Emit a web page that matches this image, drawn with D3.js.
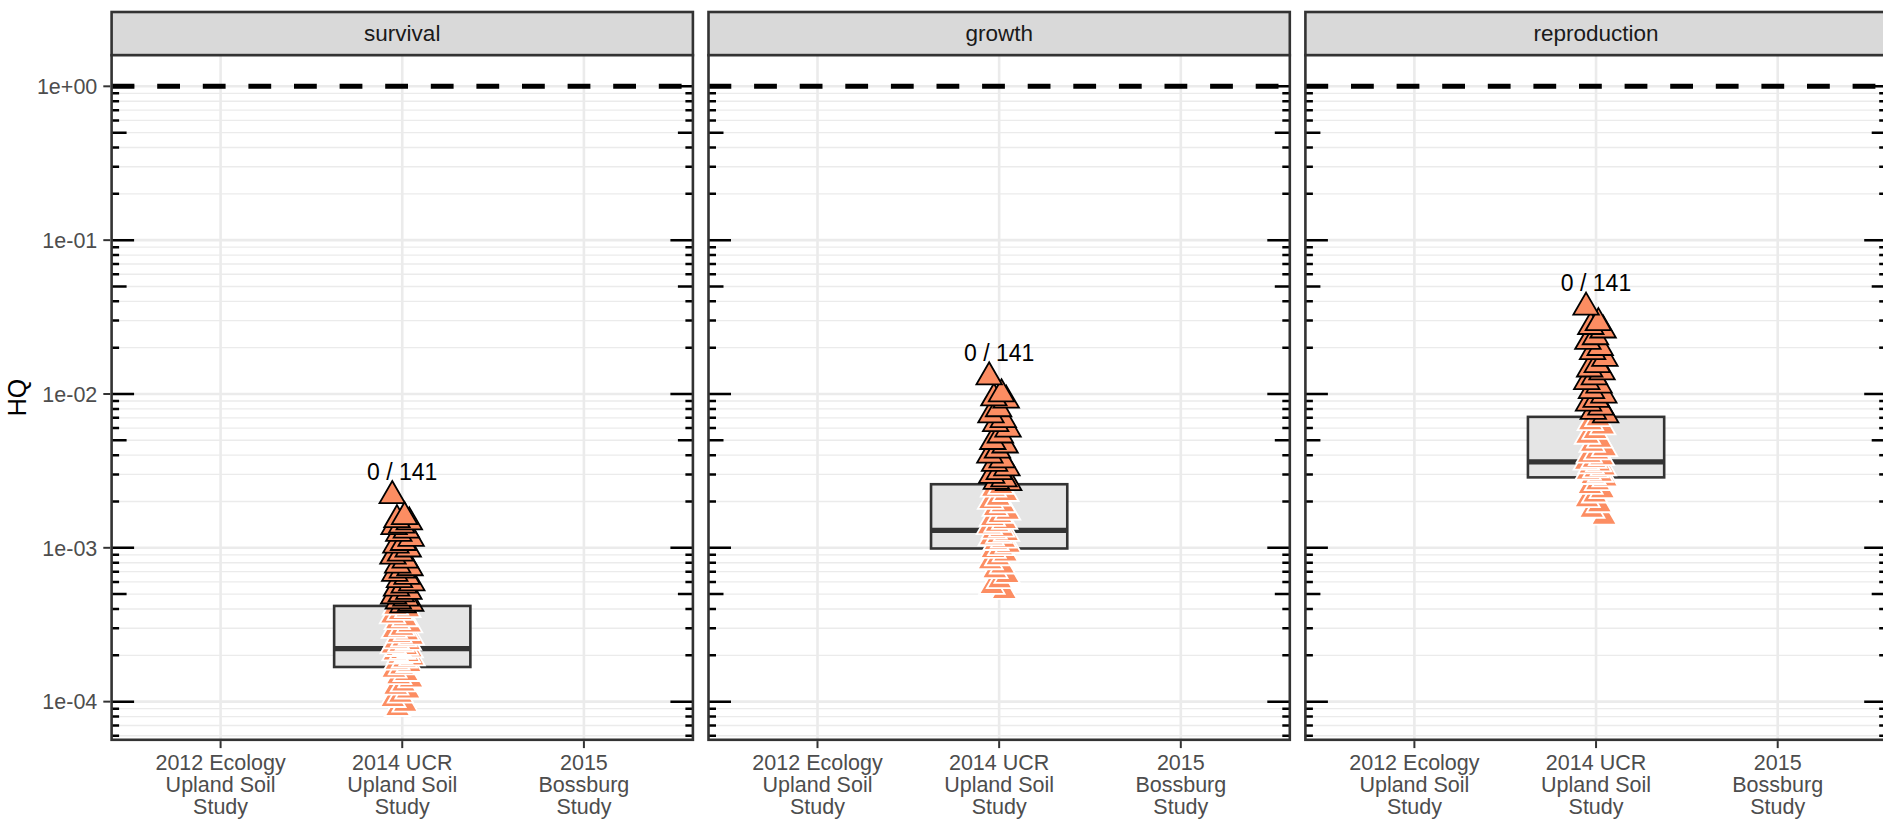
<!DOCTYPE html>
<html><head><meta charset="utf-8">
<script src="https://cdn.jsdelivr.net/npm/d3@7"></script>
<style>
body{margin:0;background:#fff;}
svg{display:block;font-family:"Liberation Sans",Arial,Helvetica,sans-serif;}
</style>
</head><body>
<svg id="chart" width="1883" height="831"></svg>
<script>
// ---------------- data ----------------
const panels = ["survival", "growth", "reproduction"];
const categories = ["2012 Ecology\nUpland Soil\nStudy", "2014 UCR\nUpland Soil\nStudy", "2015\nBossburg\nStudy"];
const dataCategory = "2014 UCR\nUpland Soil\nStudy";

const survivalHQ = [
  2.18e-3, 1.59e-3, 1.52e-3, 1.47e-3, 1.40e-3, 1.37e-3, 1.30e-3, 1.24e-3, 1.15e-3, 1.08e-3,
  1.04e-3, 9.8e-4, 9.2e-4, 8.8e-4, 8.3e-4, 7.7e-4, 7.4e-4, 7.15e-4, 6.8e-4, 6.5e-4,
  6.2e-4, 5.9e-4, 5.7e-4, 5.45e-4, 5.2e-4, 5.0e-4, 4.85e-4, 4.7e-4, 4.5e-4, 4.35e-4, 4.25e-4,
  4.1e-4, 3.95e-4, 3.8e-4, 3.6e-4, 3.45e-4, 3.3e-4, 3.15e-4, 3.0e-4, 2.9e-4, 2.8e-4,
  2.7e-4, 2.62e-4, 2.55e-4, 2.48e-4, 2.42e-4, 2.36e-4, 2.3e-4, 2.25e-4, 2.21e-4, 2.17e-4,
  2.12e-4, 2.07e-4, 2.02e-4, 1.97e-4, 1.92e-4, 1.86e-4, 1.8e-4, 1.74e-4, 1.68e-4, 1.6e-4,
  1.52e-4, 1.45e-4, 1.38e-4, 1.3e-4, 1.24e-4, 1.17e-4, 1.1e-4, 1.03e-4, 9.6e-5, 9.0e-5
];
const growthHQ = [
  1.29e-2, 1.0e-2, 9.4e-3, 9.1e-3, 8.0e-3, 7.3e-3, 6.8e-3, 6.4e-3, 5.9e-3, 5.4e-3,
  4.9e-3, 4.65e-3, 4.3e-3, 4.0e-3, 3.72e-3, 3.53e-3, 3.3e-3, 3.12e-3, 2.95e-3, 2.8e-3, 2.7e-3, 2.65e-3,
  2.5e-3, 2.4e-3, 2.25e-3, 2.1e-3, 2.0e-3, 1.9e-3, 1.8e-3, 1.7e-3, 1.62e-3, 1.55e-3,
  1.48e-3, 1.42e-3, 1.37e-3, 1.32e-3, 1.28e-3, 1.24e-3, 1.2e-3, 1.16e-3, 1.12e-3, 1.08e-3,
  1.04e-3, 1.0e-3, 9.6e-4, 9.1e-4, 8.6e-4, 8.1e-4, 7.6e-4, 7.1e-4, 6.6e-4, 6.1e-4, 5.6e-4, 5.2e-4
];
const reproductionHQ = [
  3.66e-2, 2.9e-2, 2.74e-2, 2.6e-2, 2.35e-2, 2.19e-2, 2.0e-2, 1.88e-2, 1.7e-2, 1.55e-2,
  1.45e-2, 1.39e-2, 1.29e-2, 1.2e-2, 1.14e-2, 1.05e-2, 9.8e-3, 9.2e-3, 8.7e-3, 8.2e-3, 7.7e-3, 7.3e-3,
  6.9e-3, 6.5e-3, 6.1e-3, 5.7e-3, 5.3e-3, 5.0e-3, 4.7e-3, 4.4e-3, 4.2e-3, 4.0e-3,
  3.85e-3, 3.7e-3, 3.6e-3, 3.5e-3, 3.4e-3, 3.3e-3, 3.2e-3, 3.1e-3, 3.0e-3, 2.9e-3,
  2.8e-3, 2.65e-3, 2.5e-3, 2.35e-3, 2.2e-3, 2.05e-3, 1.9e-3, 1.75e-3, 1.58e-3
];
const boxQ1 = [1.68e-4, 9.9e-4, 2.87e-3];
const boxMedian = [2.21e-4, 1.30e-3, 3.62e-3];
const boxQ3 = [4.19e-4, 2.59e-3, 7.1e-3];
const exceedLabels = ["0 / 141", "0 / 141", "0 / 141"];
const threshold = 1;
const yTickValues = [1, 0.1, 0.01, 0.001, 0.0001];
const yTickLabels = ["1e+00", "1e-01", "1e-02", "1e-03", "1e-04"];
const yTitle = "HQ";

// ---------------- layout ----------------
const panelValues = [survivalHQ, growthHQ, reproductionHQ];
const W = 1883, H = 831;
const firstLeft = 111.6, panelW = 581.3, panelGap = 15.6;
const stripTop = 12, panelTop = 55.2, panelBottom = 739.8;
const panelH = panelBottom - panelTop;
const grey20 = "#333333", grey30 = "#4D4D4D", gridCol = "#EBEBEB";
const axisFont = 21.5;

const svg = d3.select("#chart");
svg.append("rect").attr("width", W).attr("height", H).attr("fill", "#fff");

// y scale (log10, ggplot-like 5% expansion)
const allVals = [].concat(...panelValues, [threshold]);
const lo = Math.log10(d3.min(allVals)), hi = Math.log10(d3.max(allVals));
const ex = (hi - lo) * 0.05;
const y = d3.scaleLog().domain([Math.pow(10, lo - ex), Math.pow(10, hi + ex)]).range([panelH, 0]);
const [dMin, dMax] = y.domain();

// all log positions k*10^n inside domain
const logPos = [];
for (let n = Math.floor(Math.log10(dMin)); n <= Math.ceil(Math.log10(dMax)); n++) {
  for (let k = 1; k <= 9; k++) {
    const v = k * Math.pow(10, n);
    if (v >= dMin && v <= dMax) logPos.push({v, k});
  }
}

const x = d3.scalePoint().domain(categories).range([0, panelW]).padding(0.6);
const step = x.step();
const triangle = d3.symbol().type(d3.symbolTriangle).size(280);

panels.forEach((name, pi) => {
  const left = firstLeft + pi * (panelW + panelGap);
  // strip
  svg.append("rect").attr("x", left).attr("y", stripTop).attr("width", panelW).attr("height", panelTop - stripTop)
    .attr("fill", "#D9D9D9").attr("stroke", grey20).attr("stroke-width", 2.6);
  svg.append("text").attr("x", left + panelW / 2).attr("y", 41.3).attr("text-anchor", "middle")
    .attr("font-size", 22.5).attr("fill", "#1A1A1A").text(name);

  const clipId = "clip" + pi;
  svg.append("clipPath").attr("id", clipId).append("rect").attr("width", panelW).attr("height", panelH);
  const g = svg.append("g").attr("transform", `translate(${left},${panelTop})`);
  const gc = g.append("g").attr("clip-path", `url(#${clipId})`);

  gc.append("rect").attr("width", panelW).attr("height", panelH).attr("fill", "#fff");
  // grid
  gc.selectAll("line.minor").data(logPos.filter(d => d.k !== 1)).join("line")
    .attr("x1", 0).attr("x2", panelW).attr("y1", d => y(d.v)).attr("y2", d => y(d.v))
    .attr("stroke", gridCol).attr("stroke-width", 1.35);
  gc.selectAll("line.major").data(logPos.filter(d => d.k === 1)).join("line")
    .attr("x1", 0).attr("x2", panelW).attr("y1", d => y(d.v)).attr("y2", d => y(d.v))
    .attr("stroke", gridCol).attr("stroke-width", 2.6);
  gc.selectAll("line.vgrid").data(categories).join("line")
    .attr("x1", d => x(d)).attr("x2", d => x(d)).attr("y1", 0).attr("y2", panelH)
    .attr("stroke", gridCol).attr("stroke-width", 2.6);

  // box
  const cx = x(dataCategory);
  const bw = step * 0.75;
  gc.append("rect").attr("x", cx - bw / 2).attr("width", bw)
    .attr("y", y(boxQ3[pi])).attr("height", y(boxQ1[pi]) - y(boxQ3[pi]))
    .attr("fill", "#E5E5E5").attr("stroke", grey20).attr("stroke-width", 2.6);
  gc.append("line").attr("x1", cx - bw / 2).attr("x2", cx + bw / 2)
    .attr("y1", y(boxMedian[pi])).attr("y2", y(boxMedian[pi]))
    .attr("stroke", grey20).attr("stroke-width", 5.2);

  // points (deterministic jitter)
  const vals = panelValues[pi];
  const pts = vals.map((v, i) => ({v, off: (((i * 0.6180339887) % 1) - 0.5) * 2 * 0.055 * step, above: v > boxQ3[pi]}));
  const drawPts = (arr, stroke) => gc.append("g").selectAll("path").data(arr).join("path")
    .attr("d", triangle)
    .attr("transform", d => `translate(${cx + d.off},${y(d.v)})`)
    .attr("fill", "#FC8D62").attr("stroke", stroke).attr("stroke-width", 1.8).attr("stroke-linejoin", "miter");
  drawPts(pts.filter(d => !d.above).reverse(), "#ffffff");
  drawPts(pts.filter(d => d.above).reverse(), "#000000");

  // threshold line
  gc.append("line").attr("x1", 0).attr("x2", panelW).attr("y1", y(threshold)).attr("y2", y(threshold))
    .attr("stroke", "#000").attr("stroke-width", 5).attr("stroke-dasharray", "22.8,22.8");

  // log ticks on left and right
  const tl = d => d.k === 1 ? 22.5 : (d.k === 5 ? 15 : 7.5);
  gc.selectAll("line.ltl").data(logPos).join("line")
    .attr("x1", 0).attr("x2", d => tl(d)).attr("y1", d => y(d.v)).attr("y2", d => y(d.v))
    .attr("stroke", "#000").attr("stroke-width", 2.5);
  gc.selectAll("line.ltr").data(logPos).join("line")
    .attr("x1", panelW).attr("x2", d => panelW - tl(d)).attr("y1", d => y(d.v)).attr("y2", d => y(d.v))
    .attr("stroke", "#000").attr("stroke-width", 2.5);

  // exceedance label
  g.append("text").attr("x", cx).attr("y", y(d3.max(vals)) - 16).attr("text-anchor", "middle")
    .attr("font-size", 23).attr("fill", "#000").text(exceedLabels[pi]);

  // border
  g.append("rect").attr("width", panelW).attr("height", panelH).attr("fill", "none")
    .attr("stroke", grey20).attr("stroke-width", 2.6);

  // x axis
  const xa = g.append("g").attr("transform", `translate(0,${panelH})`);
  xa.selectAll("line").data(categories).join("line")
    .attr("x1", d => x(d)).attr("x2", d => x(d)).attr("y1", 1.3).attr("y2", 8.3)
    .attr("stroke", grey20).attr("stroke-width", 2);
  categories.forEach(c => {
    const t = xa.append("text").attr("text-anchor", "middle").attr("font-size", axisFont).attr("fill", grey30);
    c.split("\n").forEach((line, li) => {
      t.append("tspan").attr("x", x(c)).attr("y", 30.5 + li * 21.7).text(line);
    });
  });

  // y axis (first panel only)
  if (pi === 0) {
    const ya = g.append("g");
    ya.selectAll("line").data(yTickValues).join("line")
      .attr("x1", -8.3).attr("x2", -1.3).attr("y1", d => y(d)).attr("y2", d => y(d))
      .attr("stroke", grey20).attr("stroke-width", 2);
    ya.selectAll("text").data(yTickValues).join("text")
      .attr("x", -14.3).attr("y", d => y(d) + axisFont * 0.36).attr("text-anchor", "end")
      .attr("font-size", axisFont).attr("fill", grey30).text((d, i) => yTickLabels[i]);
  }
});

// y title
svg.append("text").attr("transform", `translate(26,${panelTop + panelH / 2}) rotate(-90)`)
  .attr("text-anchor", "middle").attr("font-size", 25).attr("fill", "#000").text(yTitle);
</script>
</body></html>
